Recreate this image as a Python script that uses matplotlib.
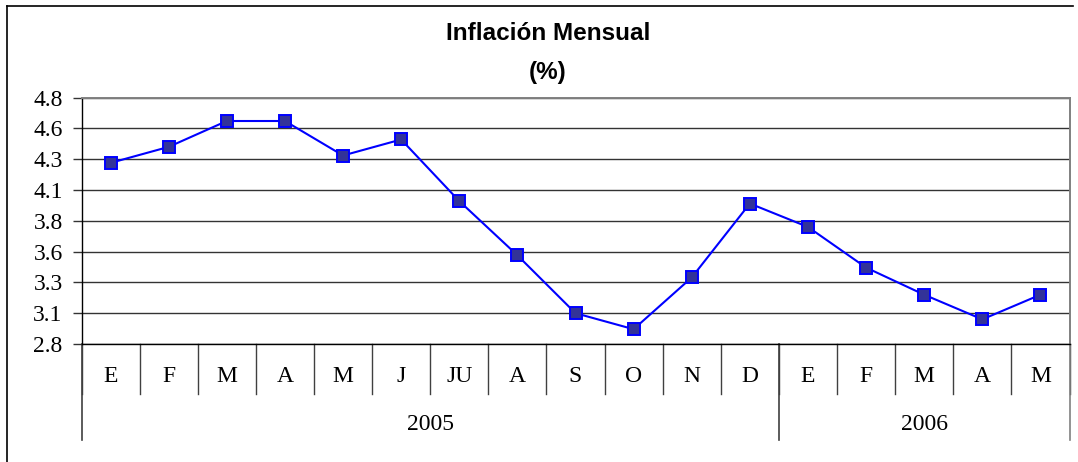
import matplotlib
matplotlib.use('Agg')
import matplotlib.pyplot as plt
from matplotlib.lines import Line2D
import matplotlib.transforms as mtransforms

# monthly inflation (%), Jan 2005 - May 2006
months = ['E', 'F', 'M', 'A', 'M', 'J', 'JU', 'A', 'S', 'O', 'N', 'D',
          'E', 'F', 'M', 'A', 'M']
inflation = [4.27, 4.40, 4.61, 4.61, 4.33, 4.46, 3.96, 3.52, 3.05, 2.92,
             3.34, 3.94, 3.75, 3.42, 3.20, 3.00, 3.20]
years = ['2005', '2006']
year_counts = [12, 5]
y_ticks = [2.80, 3.05, 3.30, 3.55, 3.80, 4.05, 4.30, 4.55, 4.80]
y_labels = ['2.8', '3.1', '3.3', '3.6', '3.8', '4.1', '4.3', '4.6', '4.8']

W, H = 1078, 462
fig = plt.figure(figsize=(W / 100, H / 100), dpi=100)
left, right, top, bottom = 81.5, 1069.5, 97.6, 344
ax = fig.add_axes([left / W, 1 - bottom / H, (right - left) / W, (bottom - top) / H])

serif = 'Liberation Serif'
x = list(range(len(months)))
ax.plot(x, inflation, color='#0000FF', lw=1.5, marker='s', markersize=8.5,
        markerfacecolor='#333399', markeredgecolor='#0000FF', markeredgewidth=1.4,
        zorder=3)

ax.set_xlim(-0.5, len(months) - 0.5)
ax.set_ylim(2.8, 4.8)
ax.set_yticks(y_ticks)
ax.set_yticklabels(y_labels)
ax.tick_params(axis='y', length=6.5, width=1, color='#333333', pad=7,
               labelsize=17, labelfontfamily=serif)
ax.set_xticks([])
ax.grid(axis='y', color='#333333', lw=1.0)
ax.set_axisbelow(True)

for side in ['left', 'bottom']:
    ax.spines[side].set_color('#000000')
    ax.spines[side].set_linewidth(1.0)
for side in ['top', 'right']:
    ax.spines[side].set_color('#808080')
    ax.spines[side].set_linewidth(1.4)

ah = bottom - top
trans = mtransforms.blended_transform_factory(ax.transData, ax.transAxes)

# month separators and labels
for k in range(len(months) + 1):
    ax.add_line(Line2D([k - 0.5, k - 0.5], [0, -50 / ah], transform=trans,
                       color='#404040', lw=1.0, clip_on=False))
for k, m in enumerate(months):
    ax.text(k, -32 / ah, m, transform=trans, ha='center', va='center',
            fontfamily=serif, fontsize=17)

# year separators and labels
bounds = [0]
for c in year_counts:
    bounds.append(bounds[-1] + c)
for i, b in enumerate(bounds):
    col = '#808080' if i == len(bounds) - 1 else '#404040'
    ax.add_line(Line2D([b - 0.5, b - 0.5], [0, -96 / ah], transform=trans,
                       color=col, lw=1.2, clip_on=False))
for i, yr in enumerate(years):
    mid = (bounds[i] + bounds[i + 1] - 1) / 2
    ax.text(mid, -81 / ah, yr, transform=trans, ha='center', va='center',
            fontfamily=serif, fontsize=17)

# title
fig.text(548 / W, 1 - 34 / H, 'Inflación Mensual', ha='center', va='center',
         fontfamily='Liberation Sans', fontweight='bold', fontsize=17.5)
fig.text(548 / W, 1 - 72 / H, '(%)', ha='center', va='center',
         fontfamily='Liberation Sans', fontweight='bold', fontsize=17.5)

# outer frame (top and left only)
fig.add_artist(Line2D([7 / W, 1073 / W], [1 - 6 / H, 1 - 6 / H], color='#000000', lw=1.2))
fig.add_artist(Line2D([7 / W, 7 / W], [1 - 6 / H, 0], color='#000000', lw=1.2))

fig.savefig('out.png', dpi=100)
